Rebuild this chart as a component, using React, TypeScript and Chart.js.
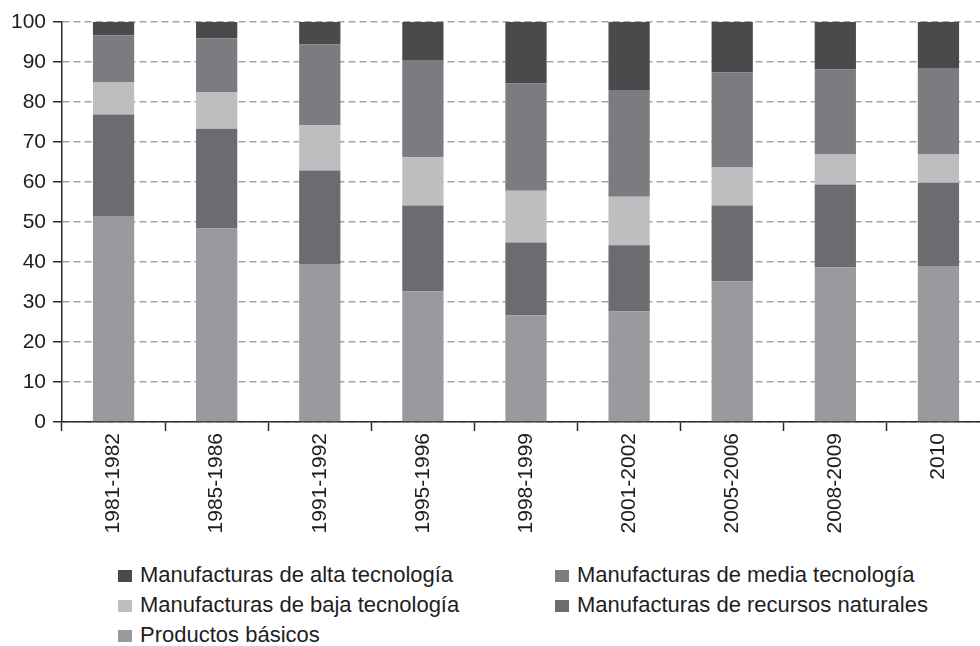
import React, { useEffect, useRef } from "react";
import { Chart, registerables } from "chart.js";

Chart.register(...registerables);

const categories = [
  "1981-1982",
  "1985-1986",
  "1991-1992",
  "1995-1996",
  "1998-1999",
  "2001-2002",
  "2005-2006",
  "2008-2009",
  "2010",
];

const productosBasicos = [51.5, 48.4, 39.5, 32.6, 26.6, 27.6, 35.1, 38.6, 39.0];
const recursosNaturales = [25.4, 24.9, 23.4, 21.5, 18.3, 16.6, 19.0, 20.8, 20.8];
const bajaTecnologia = [8.0, 9.1, 11.3, 12.1, 12.9, 12.1, 9.5, 7.5, 7.1];
const mediaTecnologia = [11.8, 13.5, 20.2, 24.1, 26.8, 26.7, 23.8, 21.2, 21.4];
const altaTecnologia = [3.3, 4.1, 5.6, 9.7, 15.4, 17.0, 12.6, 11.9, 11.7];

const seriesNames = {
  alta: "Manufacturas de alta tecnología",
  media: "Manufacturas de media tecnología",
  baja: "Manufacturas de baja tecnología",
  recursos: "Manufacturas de recursos naturales",
  basicos: "Productos básicos",
};

const colors = {
  alta: "#4a4a4d",
  media: "#7c7c80",
  baja: "#bebec1",
  recursos: "#6c6c70",
  basicos: "#9a9a9e",
};

const yMin = 0;
const yMax = 100;
const yStep = 10;

const FONT = '"Liberation Sans", Arial, Helvetica, sans-serif';
const TEXT = "#1e1e1e";

export default function App() {
  const canvasRef = useRef<HTMLCanvasElement | null>(null);

  useEffect(() => {
    const canvas = canvasRef.current;
    if (!canvas) return;
    const chart = new Chart(canvas, {
      type: "bar",
      data: {
        labels: categories,
        datasets: [
          { label: seriesNames.basicos, data: productosBasicos, backgroundColor: colors.basicos },
          { label: seriesNames.recursos, data: recursosNaturales, backgroundColor: colors.recursos },
          { label: seriesNames.baja, data: bajaTecnologia, backgroundColor: colors.baja },
          { label: seriesNames.media, data: mediaTecnologia, backgroundColor: colors.media },
          { label: seriesNames.alta, data: altaTecnologia, backgroundColor: colors.alta },
        ],
      },
      options: {
        responsive: false,
        animation: false,
        maintainAspectRatio: false,
        layout: { padding: { top: 22, left: 0, right: 5, bottom: 0 } },
        datasets: {
          bar: { barPercentage: 0.4, categoryPercentage: 1.0 },
        },
        plugins: {
          legend: { display: false },
          tooltip: { enabled: false },
        },
        scales: {
          x: {
            stacked: true,
            offset: true,
            grid: {
              display: true,
              drawOnChartArea: false,
              drawTicks: true,
              tickLength: 9,
              tickColor: "#2a2a2a",
              tickWidth: 1.5,
              offset: true,
            },
            border: { display: true, color: "#2a2a2a", width: 1.5 },
            ticks: {
              autoSkip: false,
              minRotation: 90,
              maxRotation: 90,
              padding: 2,
              color: TEXT,
              font: { family: FONT, size: 21 },
            },
            afterFit: (scale: any) => {
              scale.height = 138;
            },
          },
          y: {
            stacked: true,
            min: yMin,
            max: yMax,
            grid: {
              color: "#a6a6a6",
              lineWidth: 1.5,
              drawTicks: true,
              tickLength: 9,
              tickColor: "#2a2a2a",
              tickWidth: 1.5,
              tickBorderDash: [],
            },
            border: { display: true, color: "#2a2a2a", width: 1.5, dash: [7, 4] },
            ticks: {
              stepSize: yStep,
              padding: 7,
              color: TEXT,
              font: { family: FONT, size: 21 },
            },
            afterFit: (scale: any) => {
              scale.width = 62;
            },
          },
        },
      },
    } as any);
    return () => chart.destroy();
  }, []);

  const legendRows: [keyof typeof colors, (keyof typeof colors) | null][] = [
    ["alta", "media"],
    ["baja", "recursos"],
    ["basicos", null],
  ];

  const item = (key: keyof typeof colors) => (
    <span style={{ whiteSpace: "nowrap" }}>
      <span
        style={{
          display: "inline-block",
          width: 14,
          height: 12,
          background: colors[key],
          marginRight: 8,
          verticalAlign: "baseline",
        }}
      />
      {seriesNames[key]}
    </span>
  );

  return (
    <div
      style={{
        position: "fixed",
        left: 0,
        top: 0,
        width: 980,
        height: 646,
        overflow: "hidden",
        background: "#fff",
      }}
    >
      <canvas
        ref={canvasRef}
        width={995}
        height={560}
        style={{ position: "absolute", left: 0, top: 0, width: 995, height: 560 }}
      />
      {legendRows.map((row, i) => (
        <React.Fragment key={i}>
          <div
            style={{
              position: "absolute",
              left: 118,
              top: 560 + i * 30,
              font: `22px ${FONT}`,
              lineHeight: "30px",
              color: TEXT,
            }}
          >
            {item(row[0])}
          </div>
          {row[1] && (
            <div
              style={{
                position: "absolute",
                left: 555,
                top: 560 + i * 30,
                font: `22px ${FONT}`,
                lineHeight: "30px",
                color: TEXT,
              }}
            >
              {item(row[1])}
            </div>
          )}
        </React.Fragment>
      ))}
    </div>
  );
}
